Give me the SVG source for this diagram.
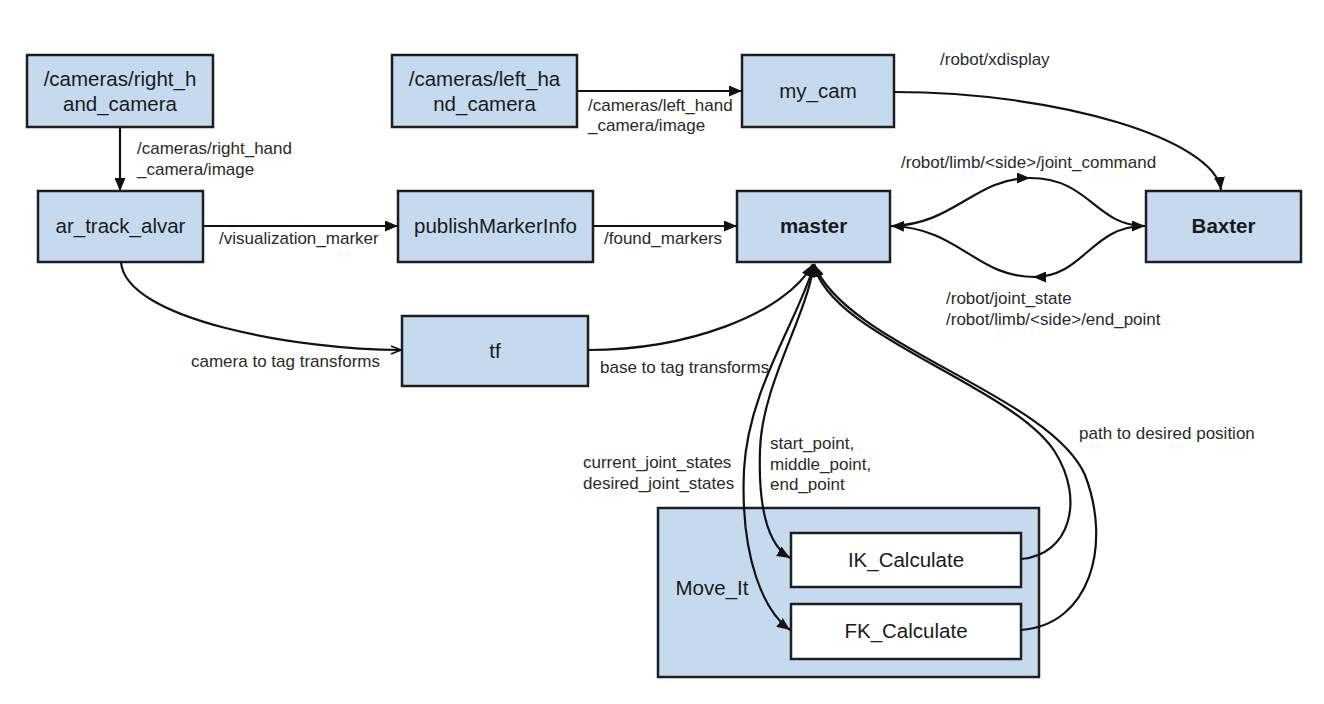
<svg xmlns="http://www.w3.org/2000/svg" width="1324" height="704" viewBox="0 0 1324 704">
<style>
.box{fill:#c6daef;stroke:#1e1e1e;stroke-width:2.5}
.wbox{fill:#ffffff;stroke:#1e1e1e;stroke-width:2.5}
.nt{font-family:"Liberation Sans",Arial,sans-serif;font-size:20.5px;fill:#1a1a1a;text-anchor:middle}
.b{font-weight:bold}
.lt{font-family:"Liberation Sans",Arial,sans-serif;font-size:17px;fill:#2a2a2a}
.e{fill:none;stroke:#111;stroke-width:2.2}
</style>
<defs>
<marker id="ah" viewBox="0 0 13 11" refX="13" refY="5.5" markerWidth="13" markerHeight="11" markerUnits="userSpaceOnUse" orient="auto">
<path d="M0,0 L13,5.5 L0,11 z" fill="#111"/>
</marker>
<marker id="oh" viewBox="0 0 12 10" refX="11" refY="5" markerWidth="12" markerHeight="10" markerUnits="userSpaceOnUse" orient="auto">
<path d="M1,1 L11,5 L1,9" fill="none" stroke="#111" stroke-width="1.8"/>
</marker>
</defs>
<rect width="1324" height="704" fill="#ffffff"/>
<g id="right_hand_camera"><rect class="box" x="27" y="55" width="186" height="72"/><text class="nt" x="120" y="86">/cameras/right_h</text><text class="nt" x="120" y="111">and_camera</text></g>
<g id="left_hand_camera"><rect class="box" x="392" y="55" width="185" height="72"/><text class="nt" x="484.5" y="86">/cameras/left_ha</text><text class="nt" x="484.5" y="111">nd_camera</text></g>
<g id="my_cam"><rect class="box" x="742" y="55" width="152" height="72"/><text class="nt" x="818" y="98">my_cam</text></g>
<g id="ar_track_alvar"><rect class="box" x="38" y="191" width="165" height="71"/><text class="nt" x="120.5" y="233">ar_track_alvar</text></g>
<g id="publishMarkerInfo"><rect class="box" x="398" y="191" width="195" height="71"/><text class="nt" x="495.5" y="233">publishMarkerInfo</text></g>
<g id="master"><rect class="box" x="737" y="191" width="153" height="71"/><text class="nt b" x="813.5" y="233">master</text></g>
<g id="Baxter"><rect class="box" x="1146" y="191" width="155" height="71"/><text class="nt b" x="1223.5" y="233">Baxter</text></g>
<g id="tf"><rect class="box" x="402" y="316" width="186" height="70"/><text class="nt" x="495" y="358">tf</text></g>
<g id="Move_It"><rect class="box" x="658" y="508" width="381" height="169"/><text class="nt" x="712" y="595">Move_It</text></g>
<g id="IK_Calculate"><rect class="wbox" x="791" y="533" width="230" height="54"/><text class="nt" x="906" y="567">IK_Calculate</text></g>
<g id="FK_Calculate"><rect class="wbox" x="791" y="604" width="230" height="55"/><text class="nt" x="906" y="638">FK_Calculate</text></g>
<g id="connectors">
<path class="e" d="M120,127 L120,191" marker-end="url(#ah)"/>
<path class="e" d="M203,226 L398,226" marker-end="url(#ah)"/>
<path class="e" d="M577,91 L742,91" marker-end="url(#ah)"/>
<path class="e" d="M593,226 L737,226" marker-end="url(#ah)"/>
<path class="e" d="M894,92 C1060,92 1215,140 1221,190" marker-end="url(#ah)"/>
<path class="e" d="M892,226 C955,224 975,178 1030,178" marker-end="url(#ah)"/>
<path class="e" d="M1030,178 C1090,178 1095,226 1145,226" marker-end="url(#ah)"/>
<path class="e" d="M1145,226 C1090,226 1085,277 1033,277" marker-end="url(#ah)"/>
<path class="e" d="M1035,277 C975,277 960,228 891,226" marker-end="url(#ah)"/>
<path class="e" d="M121,262 C125,320 300,350 401,350" marker-end="url(#oh)"/>
<path class="e" d="M588,350 C685,350 785,315 813,264" marker-end="url(#ah)"/>
<path class="e" d="M1021,559 C1070,555 1085,500 1055,452 C1012,385 828,335 814,264" marker-end="url(#ah)"/>
<path class="e" d="M1021,630 C1090,625 1112,545 1085,475 C1050,395 845,345 814,264" marker-end="url(#ah)"/>
<path class="e" d="M814,265 C805,320 762,385 760,450 C758,510 768,545 790,558" marker-end="url(#ah)"/>
<path class="e" d="M814,265 C798,320 748,390 744,470 C740,560 765,612 790,630" marker-end="url(#ah)"/>
<text class="lt" x="137" y="154">/cameras/right_hand</text>
<text class="lt" x="137" y="175">_camera/image</text>
<text class="lt" x="219" y="244">/visualization_marker</text>
<text class="lt" x="588" y="111">/cameras/left_hand</text>
<text class="lt" x="588" y="131">_camera/image</text>
<text class="lt" x="604" y="244">/found_markers</text>
<text class="lt" x="940" y="65">/robot/xdisplay</text>
<text class="lt" x="901" y="168">/robot/limb/&lt;side&gt;/joint_command</text>
<text class="lt" x="946" y="304">/robot/joint_state</text>
<text class="lt" x="946" y="325">/robot/limb/&lt;side&gt;/end_point</text>
<text class="lt" x="191" y="367">camera to tag transforms</text>
<text class="lt" x="600" y="373">base to tag transforms</text>
<text class="lt" x="770" y="449">start_point,</text>
<text class="lt" x="770" y="470">middle_point,</text>
<text class="lt" x="770" y="490">end_point</text>
<text class="lt" x="583" y="468">current_joint_states</text>
<text class="lt" x="583" y="489">desired_joint_states</text>
<text class="lt" x="1079" y="439">path to desired position</text>
</g>
</svg>
